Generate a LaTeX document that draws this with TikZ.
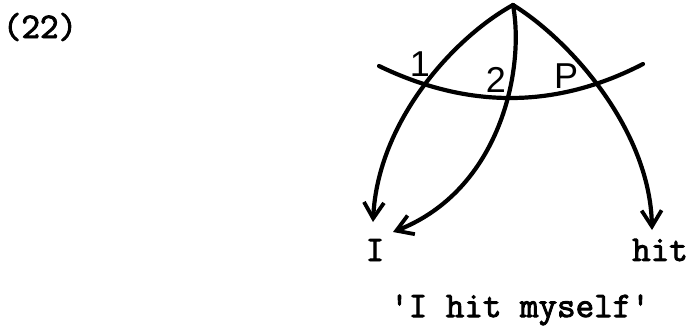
\documentclass[tikz,border=0pt]{standalone}
\usepackage{fontspec}
\setsansfont{Liberation Sans}
\newfontfamily\twfont[FakeBold=2.5]{Latin Modern Mono}
\usetikzlibrary{arrows.meta}
\begin{document}
\begin{tikzpicture}[x=1pt,y=-1pt,
  stroke/.style={line width=4.2pt,line cap=round},
  arr/.style={stroke,-{Straight Barb[length=16pt,width=20pt,line width=3.8pt]}},
  word/.style={font=\fontsize{36}{38}\selectfont\twfont,inner sep=0pt},
  hand/.style={font=\fontsize{36}{38}\selectfont\sffamily,inner sep=0pt}]
\useasboundingbox (0,0) rectangle (691,327);
\node[word] (num) at (40,27) {(22)};
\coordinate (apex) at (513,5);
\coordinate (hl) at (379,66);
\coordinate (hr) at (643,64);
\node[word] (I) at (375,250) {I};
\node[word] (hit) at (660,250) {hit};
\node[word] (gloss) at (520,310) {'I hit myself'};
\coordinate (endL) at (373,222);
\coordinate (endM) at (393,232);
\coordinate (endR) at (652,230);
% horizontal arc
\draw[stroke] (hl) .. controls (468,109) and (556,109) .. (hr);
% arrows
\draw[arr] (apex) .. controls (455,37) and (378,120) .. (endL);
\draw[arr] (apex) .. controls (525,70) and (500,190) .. (endM);
\draw[arr] (apex) .. controls (570,40) and (650,130) .. (endR);
% labels
\node[hand] (l1) at (420,64) {1};
\node[hand] (l2) at (496,80) {2};
\node[hand] (lP) at (566,76) {P};
\end{tikzpicture}
\end{document}
